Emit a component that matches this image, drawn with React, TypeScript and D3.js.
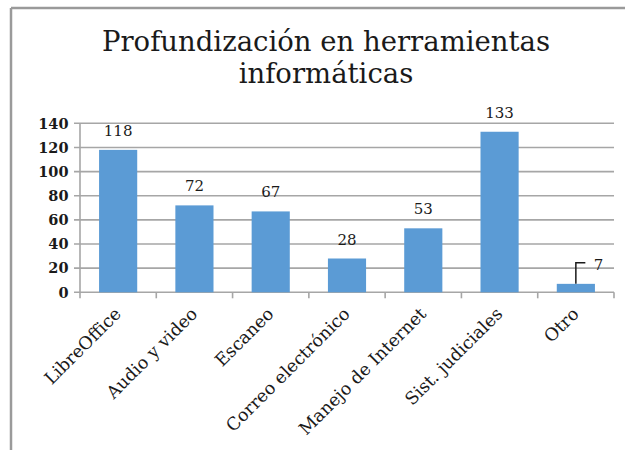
import React from "react";
import * as d3 from "d3";

const categories = ["LibreOffice", "Audio y video", "Escaneo", "Correo electrónico", "Manejo de Internet", "Sist. judiciales", "Otro"];
const values = [118, 72, 67, 28, 53, 133, 7];
const yTicks = [0, 20, 40, 60, 80, 100, 120, 140];
const titleLines = ["Profundización en herramientas", "informáticas"];

const W = 625;
const H = 450;
const left = 80;
const right = 614;
const top = 123.3;
const bottom = 292.3;
const serif = "'DejaVu Serif', serif";
const gridColor = "#a6a6a6";
const barColor = "#5b9bd5";
const textColor = "#1a1a1a";

export default function App() {
  const x = d3.scaleBand<string>().domain(categories).range([left, right]).paddingInner(0.5).paddingOuter(0.25);
  const y = d3.scaleLinear().domain([0, 140]).range([bottom, top]);
  const step = x.step();
  const boundaries = d3.range(categories.length + 1).map((i) => left + i * step);

  return (
    <svg width={W} height={H} style={{ position: "absolute", left: 0, top: 0, background: "#fff" }}>
      {/* frame */}
      <line x1={11} y1={8} x2={W} y2={8} stroke="#9a9a9a" strokeWidth={2.5} />
      <line x1={11} y1={8} x2={11} y2={H} stroke="#9a9a9a" strokeWidth={2.5} />

      {/* title */}
      {titleLines.map((t, i) => (
        <text key={t} x={326} y={51 + i * 32} textAnchor="middle" fontFamily={serif} fontSize={27.5} fill={textColor}>
          {t}
        </text>
      ))}

      {/* gridlines */}
      {yTicks.map((t) => (
        <g key={t}>
          <line x1={left - 6} x2={right} y1={y(t)} y2={y(t)} stroke={gridColor} strokeWidth={1.6} />
          <text x={68.5} y={y(t)} dy="0.36em" textAnchor="end" fontFamily={serif} fontWeight="bold" fontSize={14.5} fill={textColor}>
            {t}
          </text>
        </g>
      ))}
      {/* y axis */}
      <line x1={left} x2={left} y1={top} y2={bottom} stroke={gridColor} strokeWidth={1.6} />
      {/* x ticks */}
      {boundaries.map((b, i) => (
        <line key={i} x1={b} x2={b} y1={bottom} y2={bottom + 6} stroke={gridColor} strokeWidth={1.6} />
      ))}

      {/* bars */}
      {categories.map((c, i) => (
        <rect key={c} x={x(c)} y={y(values[i])} width={x.bandwidth()} height={y(0) - y(values[i])} fill={barColor} />
      ))}

      {/* data labels */}
      {categories.map((c, i) => {
        const cx = (x(c) as number) + x.bandwidth() / 2;
        if (values[i] < 15) {
          const yt = y(values[i]);
          return (
            <g key={c}>
              <path d={`M${cx},${yt} V${yt - 21} H${cx + 9.5}`} fill="none" stroke={textColor} strokeWidth={1.5} />
              <text x={cx + 18} y={yt - 14} fontFamily={serif} fontSize={15} fill={textColor}>
                {values[i]}
              </text>
            </g>
          );
        }
        return (
          <text key={c} x={cx} y={y(values[i]) - 14} textAnchor="middle" fontFamily={serif} fontSize={15} fill={textColor}>
            {values[i]}
          </text>
        );
      })}

      {/* x labels */}
      {categories.map((c) => {
        const cx = (x(c) as number) + x.bandwidth() / 2 + 4;
        const yy = 315;
        return (
          <text key={c} x={cx} y={yy} textAnchor="end" transform={`rotate(-45 ${cx} ${yy})`} fontFamily={serif} fontSize={17.5} fill={textColor}>
            {c}
          </text>
        );
      })}
    </svg>
  );
}
